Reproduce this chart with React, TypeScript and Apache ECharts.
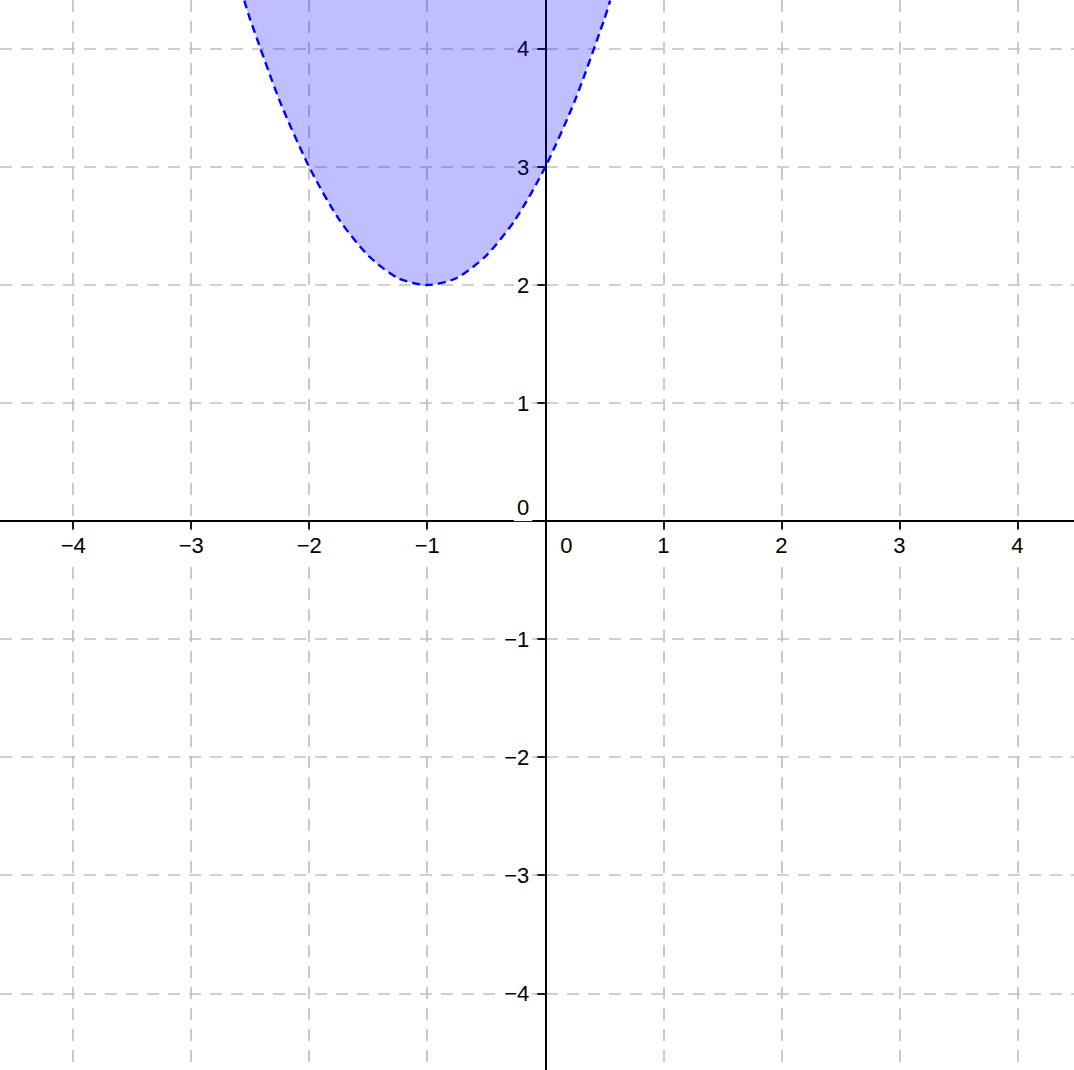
import React, { useEffect, useRef } from 'react';
import * as echarts from 'echarts';

// visible window of the plane
const xRange = [-4.62, 4.48];
const yRange = [-4.65, 4.415];

// tick labels on both axes
const xTicks = [-4, -3, -2, -1, 0, 1, 2, 3, 4];
const yTicks = [-4, -3, -2, -1, 0, 1, 2, 3, 4];

// boundary curve (vertex at (-1, 2))
const curveX = [-2.55, -2.5, -2.25, -2, -1.75, -1.5, -1.25, -1, -0.75, -0.5, -0.25, 0, 0.25, 0.5, 0.55];
const curveY = [4.41, 4.25, 3.56, 3, 2.56, 2.25, 2.06, 2, 2.06, 2.25, 2.56, 3, 3.56, 4.25, 4.41];

const FONT = "'Liberation Sans', Arial, sans-serif";
const W = 1074;
const H = 1070;

const minus = (v: number) => String(v).replace('-', '\u2212');
// origin label sits right of the y axis on x, above the x axis on y
const fmtX = (v: number) => (v === 0 ? '{g|}{n|0}' : `{n|${minus(v)}}`);
const fmtY = (v: number) => (v === 0 ? '{n|0}\n{g|}' : `{n|${minus(v)}}`);

const labelBox = {
  fontSize: 22,
  fontFamily: FONT,
  color: '#000',
  backgroundColor: '#fff',
  padding: [3, 3, 3, 3],
};

const App: React.FC = () => {
  const chartRef = useRef<HTMLDivElement>(null);

  useEffect(() => {
    document.body.style.margin = '0';
    document.body.style.overflow = 'hidden';
    if (!chartRef.current) return;
    const chart = echarts.init(chartRef.current, undefined, { renderer: 'svg' });

    const gridLine = {
      show: true,
      lineStyle: { color: '#c0c0c0', width: 1.7, type: [12, 9] as number[] },
    };

    const option: echarts.EChartsOption = {
      animation: false,
      backgroundColor: '#fff',
      grid: { left: 0, right: 0, top: 0, bottom: 0, containLabel: false, outerBoundsMode: 'none' } as any,
      xAxis: {
        type: 'value',
        min: xRange[0],
        max: xRange[1],
        splitNumber: 9,
        minInterval: 1,
        maxInterval: 1,
        position: 'bottom',
        axisLine: { onZero: false, lineStyle: { color: '#000', width: 2 } },
        axisTick: { show: true, length: 8, customValues: xTicks, lineStyle: { color: '#000', width: 1.8 } },
        axisLabel: {
          customValues: xTicks,
          margin: 10,
          fontSize: 22,
          fontFamily: FONT,
          color: '#000',
          formatter: fmtX,
          rich: { n: labelBox, g: { width: 42, fontSize: 22 } },
        },
        splitLine: gridLine,
      },
      yAxis: {
        type: 'value',
        min: yRange[0],
        max: yRange[1],
        splitNumber: 9,
        minInterval: 1,
        maxInterval: 1,
        position: 'left',
        axisLine: { onZero: false, lineStyle: { color: '#000', width: 2 } },
        axisTick: { show: true, length: 8, customValues: yTicks, lineStyle: { color: '#000', width: 1.8 } },
        axisLabel: {
          customValues: yTicks,
          margin: 13,
          fontSize: 22,
          fontFamily: FONT,
          color: '#000',
          formatter: fmtY,
          rich: { n: labelBox, g: { height: 28, lineHeight: 28, fontSize: 22 } },
        },
        splitLine: gridLine,
      },
      series: [
        {
          type: 'line',
          data: curveX.map((x, i) => [x, curveY[i]]),
          smooth: 0.25,
          symbol: 'none',
          clip: true,
          lineStyle: { color: '#0000ff', width: 2.4, type: [8, 5] },
          areaStyle: { origin: 'end', color: 'rgba(0, 0, 255, 0.25)', opacity: 1 },
        },
      ],
    };

    chart.setOption(option);

    // move both axes onto the origin, found through the chart's own scales
    const origin = chart.convertToPixel({ gridIndex: 0 }, [0, 0]) as number[];
    chart.setOption({
      xAxis: { offset: origin[1] - H },
      yAxis: { offset: -origin[0] },
    });

    return () => chart.dispose();
  }, []);

  return <div ref={chartRef} style={{ width: `${W}px`, height: `${H}px` }} />;
};

export default App;
